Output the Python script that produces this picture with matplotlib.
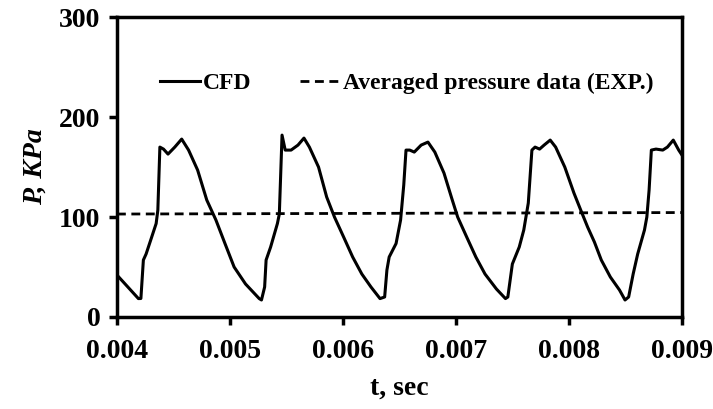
import numpy as np
import matplotlib.pyplot as plt

plt.rcParams['font.family'] = ['Liberation Serif', 'DejaVu Serif']

# CFD pressure trace
t_cfd = [0.004, 0.00419, 0.004212, 0.004234, 0.004258, 0.004299, 0.004347, 0.004362, 0.00438,
         0.004412, 0.004452, 0.004512, 0.004573, 0.004634, 0.004714, 0.004795, 0.004876,
         0.004956, 0.005037, 0.005138, 0.005259, 0.005279, 0.005307, 0.00532, 0.00536,
         0.00542, 0.005437, 0.005461, 0.005489, 0.005541, 0.005602, 0.005655, 0.005703,
         0.005784, 0.005856, 0.005925, 0.006006, 0.006086, 0.006167, 0.006248, 0.006328,
         0.006369, 0.006389, 0.006409, 0.00647, 0.00651, 0.006538, 0.006558, 0.006591,
         0.006631, 0.006692, 0.006752, 0.006813, 0.006894, 0.006962, 0.007015, 0.007095,
         0.007176, 0.007257, 0.007358, 0.007438, 0.007459, 0.007499, 0.00756, 0.0076,
         0.00764, 0.007672, 0.0077, 0.00774, 0.00778, 0.007834, 0.007882, 0.007963,
         0.008044, 0.008104, 0.008165, 0.008225, 0.008286, 0.008366, 0.008447, 0.008496,
         0.008528, 0.008568, 0.008608, 0.008668, 0.008689, 0.008709, 0.008729, 0.00877,
         0.00883, 0.008871, 0.008923, 0.008971, 0.009]
p_cfd = [42, 18.4, 18.5, 57, 63, 77, 93.5, 107, 170,
         168, 163, 170, 178, 167, 147, 117, 97,
         73.5, 50, 33, 18.4, 17, 30, 57, 70,
         93.5, 103, 182, 167, 167, 172, 179, 170,
         150, 120, 100, 80, 60, 43, 30, 18.4,
         20, 47, 60, 73.5, 97, 132, 167, 167,
         165, 172, 175, 165, 144, 119, 100, 80,
         60, 43, 28, 18.4, 20, 53, 70, 87,
         114, 167, 170, 168, 172, 177, 170, 150,
         124, 107, 90, 75, 57, 40, 27, 17,
         20, 43, 63, 87, 100, 127, 167, 168,
         167, 170, 177, 167, 162]

t_exp = [0.004, 0.009]
p_exp = [103, 104.5]

fig = plt.figure(figsize=(7.13, 4.09), dpi=100)
ax = fig.add_axes([0.164, 0.225, 0.7925, 0.733])

ax.plot(t_cfd, p_cfd, color='black', lw=2.2, label='CFD')
ax.plot(t_exp, p_exp, color='black', lw=2.0, ls=(0, (3.2, 2.0)), label='Averaged pressure data (EXP.)')

ax.set_xlim(0.004, 0.009)
ax.set_ylim(0, 300)
ax.set_xticks([0.004, 0.005, 0.006, 0.007, 0.008, 0.009])
ax.set_xticklabels(['0.004', '0.005', '0.006', '0.007', '0.008', '0.009'])
ax.set_yticks([0, 100, 200, 300])

for s in ax.spines.values():
    s.set_linewidth(2.5)
ax.tick_params(width=2.5, length=6, labelsize=20, pad=6)
ax.tick_params(axis='x', pad=10)
for lab in ax.get_xticklabels() + ax.get_yticklabels():
    lab.set_fontweight('bold')

ax.set_xlabel('t, sec', fontsize=20, fontweight='bold', labelpad=8)
ax.set_ylabel('P, KPa', fontsize=20, fontweight='bold', fontstyle='italic', labelpad=8)

ax.legend(loc='center left', bbox_to_anchor=(0.076, 0.78), ncol=2, frameon=False,
          prop={'weight': 'bold', 'size': 17}, handlelength=1.7, handletextpad=0.1,
          columnspacing=2.1, borderpad=0, borderaxespad=0)

fig.savefig('out.png', dpi=100)
